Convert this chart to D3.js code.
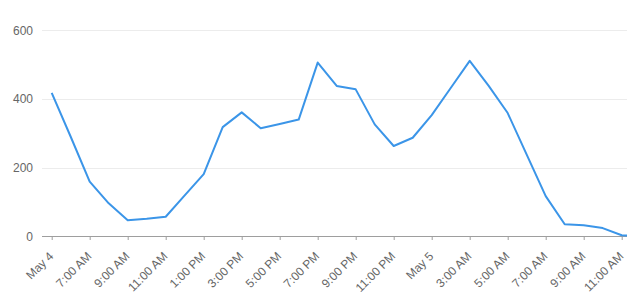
<!DOCTYPE html>
<html>
<head>
<meta charset="utf-8">
<script src="https://cdn.jsdelivr.net/npm/d3@7"></script>
<style>
  body { margin: 0; background: #fff; }
  svg { display: block; font-family: "Liberation Sans", Arial, sans-serif; }
  .grid line { stroke: #ececec; stroke-width: 1; }
  .axis-label { fill: #666; font-size: 12px; }
  .line { fill: none; stroke: #3b95e8; stroke-width: 2; stroke-linejoin: round; }
</style>
</head>
<body>
<div class="chart"></div>
<script>
// hourly counts, May 4 5:00 AM .. May 5 12:00 PM
var counts = [418, 290, 159, 96, 47, 51, 57, 119, 181, 318, 361, 315, 327, 340, 506, 438,
              428, 326, 263, 287, 353, 432, 511, 438, 359, 238, 117, 35, 32, 24, 3, 1];
var yTicks = [0, 200, 400, 600];
var xTickLabels = ["May 4", "7:00 AM", "9:00 AM", "11:00 AM", "1:00 PM", "3:00 PM", "5:00 PM",
                   "7:00 PM", "9:00 PM", "11:00 PM", "May 5", "3:00 AM", "5:00 AM", "7:00 AM",
                   "9:00 AM", "11:00 AM"];

var startTime = new Date(2017, 4, 4, 5),
    lastTick = new Date(2017, 4, 5, 11);

var times = d3.timeHour.range(startTime, d3.timeHour.offset(startTime, counts.length));
var data = counts.map(function(c, i) { return { time: times[i], value: c }; });
// a tick every second hour, starting at the first point
var tickTimes = d3.timeHour.range(startTime, d3.timeHour.offset(lastTick, 1), 2);

var options = { width: 627, height: 302 },
    plotLeft = 42,
    plotRight = 627;

var xScale = d3.scaleTime()
    .domain([startTime, lastTick])
    .range([51.7, 621.7]);
var yScale = d3.scaleLinear()
    .domain([0, 600])
    .range([236.3, 30.3]);

var svg = d3.select(".chart").append("svg")
    .attr("width", options.width)
    .attr("height", options.height);

// horizontal grid lines
svg.append("g")
  .attr("class", "grid")
  .selectAll("line")
  .data(yTicks.filter(function(t) { return t > 0; }))
  .enter().append("line")
    .attr("x1", plotLeft)
    .attr("x2", plotRight)
    .attr("y1", function(d) { return Math.round(yScale(d)) + 0.5; })
    .attr("y2", function(d) { return Math.round(yScale(d)) + 0.5; });

// y labels
svg.append("g")
  .selectAll("text")
  .data(yTicks)
  .enter().append("text")
    .attr("class", "axis-label")
    .attr("x", 33)
    .attr("y", function(d) { return yScale(d); })
    .attr("dy", "0.35em")
    .attr("text-anchor", "end")
    .text(function(d) { return d; });

// x axis
var xAxis = d3.axisBottom(xScale)
    .tickValues(tickTimes)
    .tickSize(4)
    .tickFormat(function(d, i) { return xTickLabels[i]; });

var xg = svg.append("g")
    .attr("transform", "translate(0," + Math.round(yScale(0)) + ")")
    .call(xAxis);

xg.select(".domain").remove();
xg.append("line")
    .attr("x1", plotLeft)
    .attr("x2", plotRight)
    .attr("y1", 0.5)
    .attr("y2", 0.5)
    .attr("stroke", "#9e9e9e");
xg.selectAll(".tick line").attr("stroke", "#9e9e9e");
xg.selectAll(".tick text")
    .attr("class", "axis-label")
    .attr("fill", null)
    .attr("font-family", null)
    .attr("font-size", null)
    .attr("text-anchor", "end")
    .attr("dy", null)
    .attr("y", 0)
    .attr("transform", "translate(2,21) rotate(-45)");

var line = d3.line()
    .x(function(d) { return xScale(d.time); })
    .y(function(d) { return yScale(d.value); });

svg.append("path")
  .datum(data)
  .attr("class", "line")
  .attr("d", line);
</script>
</body>
</html>
